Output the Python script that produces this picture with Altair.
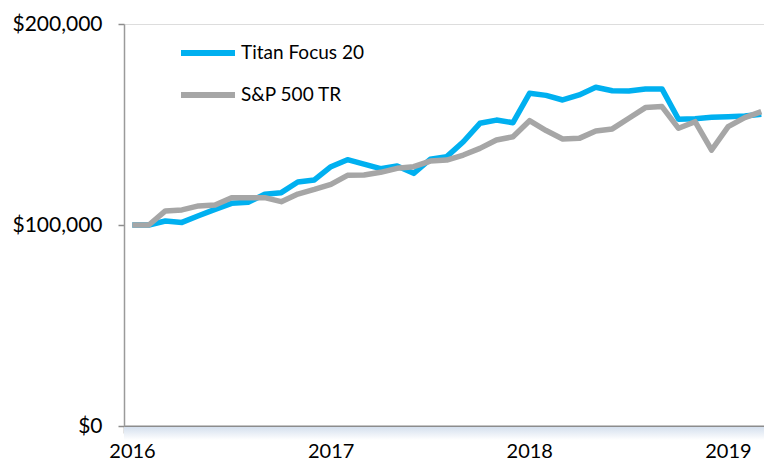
import altair as alt
import pandas as pd

titan = [100000, 100000, 102000, 101300, 104600, 107800, 110800, 111300, 115300, 116100,
         121400, 122400, 129000, 132500, 130300, 128000, 129400, 125700, 132700, 134000,
         141400, 150600, 152200, 150900, 165500, 164500, 162200, 164700, 168500, 166800,
         166700, 167700, 167700, 152600, 152900, 153600, 153900, 154200, 155100]
sp500 = [100000, 100000, 107000, 107500, 109500, 110000, 113600, 113600, 113600, 111600,
         115400, 117700, 120200, 124700, 124900, 126200, 128200, 129000, 131800, 132300,
         134800, 138100, 142300, 143900, 151900, 147000, 142800, 143100, 146800, 147800,
         153100, 158400, 158900, 148100, 151400, 137300, 148900, 153400, 156400]
series_names = ["Titan Focus 20", "S&P 500 TR"]
colors = ["#00B0F0", "#A6A6A6"]
year_ticks = [2016, 2017, 2018, 2019]
y_ticks = [0, 100000, 200000]

t = [2016 + (i + 0.5) / 12 for i in range(len(titan))]
df = pd.DataFrame({
    "t": t * 2,
    "value": titan + sp500,
    "series": [series_names[0]] * len(titan) + [series_names[1]] * len(sp500),
})

FONT = "Lato"

shadow = alt.Chart(pd.DataFrame({"a": [0]})).mark_rect(
    clip=False,
    color=alt.Gradient(gradient="linear",
                       stops=[alt.GradientStop(color="#d5e0ee", offset=0),
                              alt.GradientStop(color="#ffffff", offset=1)],
                       x1=0, y1=0, x2=0, y2=1),
).encode(x=alt.value(0), x2=alt.value(640), y=alt.value(403), y2=alt.value(416))

lines = alt.Chart(df).mark_line(strokeWidth=5.5, strokeJoin="round", strokeCap="butt").encode(
    x=alt.X("t:Q", scale=alt.Scale(domain=[2016, 2019.222], nice=False, zero=False),
            axis=alt.Axis(values=year_ticks, format="d", title=None, grid=False,
                          labelFontSize=20, labelColor="#000", labelPadding=8, labelOffset=8,
                          tickSize=7, tickColor="#8c8c8c", domainColor="#8c8c8c",
                          domainWidth=2, tickWidth=1.5, labelFont=FONT, labelFlush=False)),
    y=alt.Y("value:Q", scale=alt.Scale(domain=[0, 200000], nice=False),
            axis=alt.Axis(values=y_ticks, format="$,.0f", title=None, grid=False,
                          labelFontSize=21, labelColor="#000", labelPadding=16,
                          tickSize=6, tickColor="#8c8c8c", domainColor="#9a9a9a",
                          domainWidth=1.5, tickWidth=1.5, labelFont=FONT)),
    color=alt.Color("series:N", sort=series_names,
                    scale=alt.Scale(domain=series_names, range=colors),
                    legend=alt.Legend(title=None, orient="none", legendX=54, legendY=-1,
                                      symbolType="stroke", symbolSize=2916,
                                      symbolStrokeWidth=6, labelFontSize=19,
                                      labelFont=FONT, labelColor="#000",
                                      labelOffset=3, rowPadding=-9)),
    order=alt.Order("series:N", sort="descending"),
)

chart = alt.layer(shadow, lines).properties(
    width=640, height=402,
    padding={"left": 124, "top": 24, "right": 0, "bottom": 36},
    autosize=alt.AutoSizeParams(type="none"),
).configure_view(stroke=None).configure(background="white")

chart.save("out.html", embed_options={"renderer": "svg", "actions": False})
